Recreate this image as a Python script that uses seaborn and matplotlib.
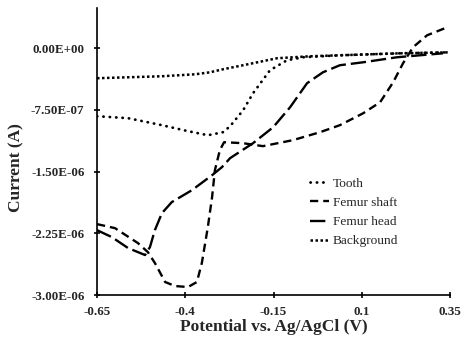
import numpy as np
import pandas as pd
import matplotlib
matplotlib.use('Agg')
import matplotlib.pyplot as plt
from matplotlib.ticker import FuncFormatter
import seaborn as sns

# values, potential in V, current in 1e-6 A
tooth_v = [-0.65, -0.562, -0.466, -0.392, -0.336, -0.321, -0.293, -0.273, -0.236,
           -0.208, -0.160, -0.112, -0.066, 0.038, 0.208, 0.35]
tooth_i = [-0.826, -0.850, -0.935, -1.008, -1.057, -1.045, -1.020, -0.948, -0.753,
           -0.547, -0.267, -0.146, -0.109, -0.085, -0.061, -0.049]

shaft_v = [-0.65, -0.599, -0.534, -0.506, -0.486, -0.457, -0.429, -0.392, -0.367,
           -0.353, -0.336, -0.324, -0.316, -0.302, -0.290, -0.236, -0.180, -0.095,
           -0.018, 0.038, 0.104, 0.152, 0.189, 0.217, 0.245, 0.285, 0.342]
shaft_i = [-2.138, -2.187, -2.369, -2.478, -2.611, -2.842, -2.891, -2.903, -2.842,
           -2.611, -2.174, -1.810, -1.482, -1.239, -1.142, -1.154, -1.190, -1.117,
           -1.020, -0.935, -0.790, -0.656, -0.413, -0.182, 0.012, 0.158, 0.255]

head_v = [-0.65, -0.608, -0.562, -0.514, -0.500, -0.486, -0.466, -0.438, -0.381,
          -0.324, -0.296, -0.273, -0.208, -0.151, -0.103, -0.055, -0.010, 0.038,
          0.104, 0.200, 0.330]
head_i = [-2.211, -2.296, -2.429, -2.514, -2.417, -2.211, -2.004, -1.870, -1.725,
          -1.543, -1.445, -1.336, -1.154, -0.960, -0.717, -0.425, -0.292, -0.206,
          -0.170, -0.109, -0.061]

bg_v = [-0.65, -0.466, -0.372, -0.330, -0.293, -0.236, -0.140, -0.047, 0.038, 0.208, 0.35]
bg_i = [-0.364, -0.340, -0.316, -0.292, -0.255, -0.206, -0.121, -0.097, -0.085, -0.061, -0.049]

x_ticks = [-0.65, -0.4, -0.15, 0.1, 0.35]
x_labels = ['-0.65', '-0.4', '-0.15', '0.1', '0.35']
y_ticks = [0.0, -7.5e-7, -1.5e-6, -2.25e-6, -3.0e-6]

sns.set_style('white')
plt.rcParams['font.family'] = ['Liberation Serif', 'DejaVu Serif']

fig = plt.figure(figsize=(4.74, 3.41), dpi=100)
ax = fig.add_axes([97/474, 1 - 295/341, 353/474, 287/341])

series = [
    ('Tooth', tooth_v, tooth_i, dict(linestyle=(0, (0.1, 2.2)), dash_capstyle='round', linewidth=2.0)),
    ('Femur shaft', shaft_v, shaft_i, dict(linestyle=(0, (3.5, 2.1)), linewidth=1.7)),
    ('Femur head', head_v, head_i, dict(linestyle=(0, (6.5, 2.1)), linewidth=1.7)),
    ('Background', bg_v, bg_i, dict(linestyle=(0, (1, 1.0)), linewidth=1.8)),
]

for name, v, i, style in series:
    df = pd.DataFrame({'v': v, 'i': np.array(i) * 1e-6})
    sns.lineplot(data=df, x='v', y='i', ax=ax, sort=False, estimator=None,
                 color='black', label=name, **style)

# оси
ax.set_xlim(-0.65, 0.35)
ax.set_ylim(-3.0e-6, 0.49e-6)
ax.set_xticks(x_ticks)
ax.set_xticklabels(x_labels)
ax.set_yticks(y_ticks)
ax.yaxis.set_major_formatter(FuncFormatter(lambda val, pos: f'{val:.2E}'))

for side in ['top', 'right']:
    ax.spines[side].set_visible(False)
for side in ['left', 'bottom']:
    ax.spines[side].set_color('black')
    ax.spines[side].set_linewidth(1.2)

ax.tick_params(axis='both', direction='inout', length=5, width=1.2, color='black',
               labelsize=9.4, left=True, bottom=True)
ax.tick_params(axis='x', pad=5.5)
ax.tick_params(axis='y', pad=6.5)
for lab in ax.get_xticklabels() + ax.get_yticklabels():
    lab.set_fontweight('bold')

ax.set_xlabel('Potential vs. Ag/AgCl (V)', fontsize=12.5, fontweight='bold')
ax.set_ylabel('Current (A)', fontsize=12.5, fontweight='bold')
ax.xaxis.set_label_coords(0.5, -0.085)
ax.yaxis.set_label_coords(-0.205, 0.4425)

# легенда
ax.legend(loc='upper left', bbox_to_anchor=(0.603, 0.41), frameon=False,
          fontsize=9.6, handlelength=1.4, handletextpad=0.3, labelspacing=0.52,
          borderpad=0, borderaxespad=0)

fig.savefig('out.png', dpi=100)
